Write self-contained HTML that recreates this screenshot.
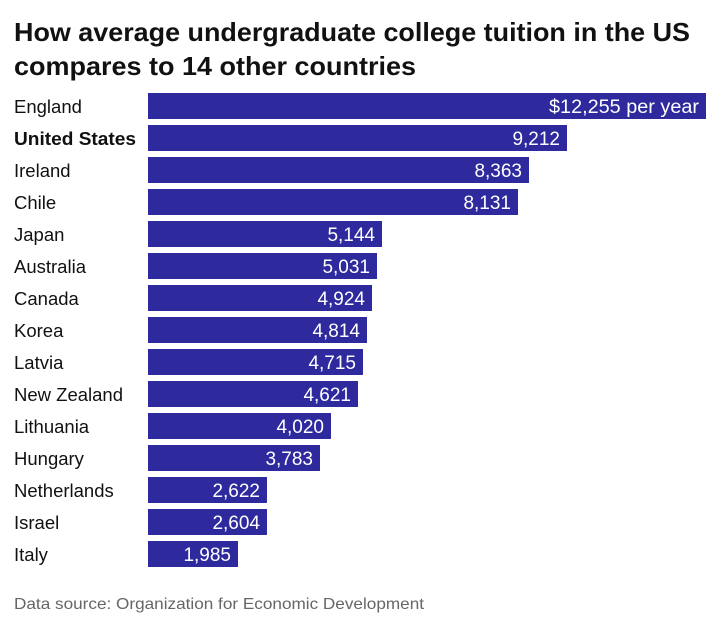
<!DOCTYPE html>
<html><head><meta charset="utf-8"><style>
body{margin:0;background:#fff;}
svg{display:block;font-family:"Liberation Sans",Arial,sans-serif;}
</style></head><body>
<svg width="720" height="627" viewBox="0 0 720 627">
<text x="14" y="41" font-size="26" font-weight="bold" fill="#111" textLength="676" lengthAdjust="spacingAndGlyphs">How average undergraduate college tuition in the US</text>
<text x="14" y="75" font-size="26" font-weight="bold" fill="#111" textLength="402" lengthAdjust="spacingAndGlyphs">compares to 14 other countries</text>
<g fill="#2e2a9e">
<rect x="148" y="93" width="558" height="26"/>
<rect x="148" y="125" width="419" height="26"/>
<rect x="148" y="157" width="381" height="26"/>
<rect x="148" y="189" width="370" height="26"/>
<rect x="148" y="221" width="234" height="26"/>
<rect x="148" y="253" width="229" height="26"/>
<rect x="148" y="285" width="224" height="26"/>
<rect x="148" y="317" width="219" height="26"/>
<rect x="148" y="349" width="215" height="26"/>
<rect x="148" y="381" width="210" height="26"/>
<rect x="148" y="413" width="183" height="26"/>
<rect x="148" y="445" width="172" height="26"/>
<rect x="148" y="477" width="119" height="26"/>
<rect x="148" y="509" width="119" height="26"/>
<rect x="148" y="541" width="90" height="26"/>
</g>
<g font-size="18.5" fill="#111">
<text x="14" y="113">England</text>
<text x="14" y="145" font-weight="bold" textLength="122" lengthAdjust="spacingAndGlyphs">United States</text>
<text x="14" y="177">Ireland</text>
<text x="14" y="209">Chile</text>
<text x="14" y="241">Japan</text>
<text x="14" y="273">Australia</text>
<text x="14" y="305">Canada</text>
<text x="14" y="337">Korea</text>
<text x="14" y="369">Latvia</text>
<text x="14" y="401">New Zealand</text>
<text x="14" y="433">Lithuania</text>
<text x="14" y="465">Hungary</text>
<text x="14" y="497">Netherlands</text>
<text x="14" y="529">Israel</text>
<text x="14" y="561">Italy</text>
</g>
<g font-size="19" fill="#fff" text-anchor="end">
<text x="699" y="113" textLength="150" lengthAdjust="spacingAndGlyphs">$12,255 per year</text>
<text x="560" y="145">9,212</text>
<text x="522" y="177">8,363</text>
<text x="511" y="209">8,131</text>
<text x="375" y="241">5,144</text>
<text x="370" y="273">5,031</text>
<text x="365" y="305">4,924</text>
<text x="360" y="337">4,814</text>
<text x="356" y="369">4,715</text>
<text x="351" y="401">4,621</text>
<text x="324" y="433">4,020</text>
<text x="313" y="465">3,783</text>
<text x="260" y="497">2,622</text>
<text x="260" y="529">2,604</text>
<text x="231" y="561">1,985</text>
</g>
<text x="14" y="609" font-size="16" fill="#666" textLength="410" lengthAdjust="spacingAndGlyphs">Data source: Organization for Economic Development</text>
</svg>
</body></html>
